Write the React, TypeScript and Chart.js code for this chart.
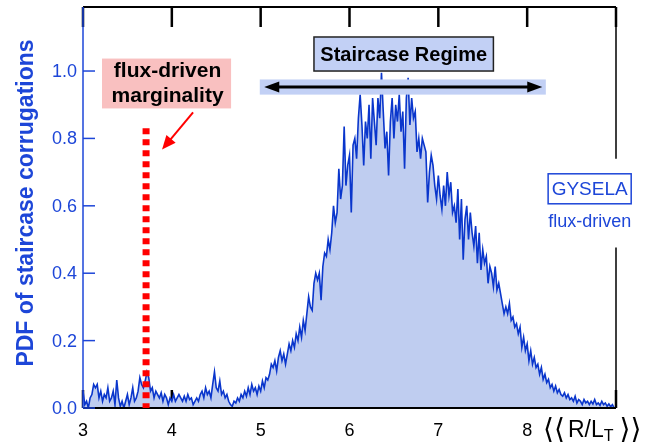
import React, { useEffect, useRef } from "react";
import { Chart, registerables } from "chart.js";

Chart.register(...registerables);

// ---- data ----
const X_START = 3.0;
const X_STEP = 0.02;
const PDF_VALUES = [
  0.05, 0.01, 0.02, 0.0, 0.03,
  0.04, 0.07, 0.06, 0.07, 0.03,
  0.05, 0.02, 0.04, 0.03, 0.06,
  0.02, 0.03, 0.05, 0.01, 0.083,
  0.03, 0.005, 0.02, 0.0, 0.02,
  0.04, 0.01, 0.03, 0.06, 0.02,
  0.03, 0.05, 0.09, 0.07, 0.06,
  0.08, 0.107, 0.09, 0.05, 0.06,
  0.03, 0.05, 0.04, 0.03, 0.045,
  0.02, 0.04, 0.03, 0.01, 0.03,
  0.02, 0.04, 0.02, 0.03, 0.04,
  0.03, 0.02, 0.035, 0.02, 0.04,
  0.025, 0.03, 0.01, 0.02, 0.03,
  0.02, 0.04, 0.05, 0.03, 0.06,
  0.04, 0.05, 0.03, 0.07, 0.107,
  0.06, 0.05, 0.08, 0.04, 0.05,
  0.03, 0.04, 0.02, 0.01, 0.005,
  0.02, 0.015, 0.03, 0.02, 0.04,
  0.03, 0.05, 0.035, 0.06, 0.04,
  0.07, 0.05, 0.06, 0.04, 0.065,
  0.05, 0.08, 0.06, 0.09, 0.083,
  0.1, 0.13, 0.12, 0.14, 0.11,
  0.15, 0.17, 0.14, 0.16, 0.13,
  0.16, 0.19, 0.17, 0.2, 0.18,
  0.22, 0.2, 0.24, 0.21, 0.26,
  0.23, 0.28, 0.33, 0.3, 0.29,
  0.37, 0.4, 0.38, 0.4, 0.32,
  0.42, 0.46, 0.45, 0.5, 0.47,
  0.52, 0.6, 0.55, 0.58, 0.71,
  0.62, 0.66, 0.835, 0.66, 0.72,
  0.75, 0.58, 0.78, 0.8, 0.74,
  0.86, 0.93, 0.84, 0.72, 0.85,
  0.8, 0.9, 0.74, 0.92, 0.85,
  0.78, 0.92, 0.86, 0.995, 0.88,
  0.77, 0.82, 0.69, 0.85, 0.92,
  0.8, 0.9, 0.85, 0.93, 0.82,
  0.88, 0.71, 0.92, 0.98, 0.84,
  0.92, 0.86, 0.88, 0.76, 0.8,
  0.74, 0.8, 0.78, 0.76, 0.61,
  0.7, 0.75, 0.72, 0.66, 0.62,
  0.69, 0.63, 0.59, 0.66, 0.6,
  0.7, 0.63, 0.67, 0.58, 0.6,
  0.55, 0.65, 0.5, 0.62, 0.44,
  0.56, 0.6, 0.5, 0.58, 0.52,
  0.48, 0.54, 0.43, 0.52, 0.41,
  0.47, 0.43, 0.45, 0.37, 0.42,
  0.4, 0.36, 0.42, 0.35, 0.37,
  0.34, 0.31, 0.28, 0.3, 0.28,
  0.31, 0.26, 0.27, 0.24, 0.25,
  0.22, 0.24, 0.18, 0.21, 0.17,
  0.19, 0.14, 0.17, 0.13, 0.15,
  0.12, 0.13, 0.1, 0.12, 0.085,
  0.1, 0.075, 0.085, 0.06, 0.07,
  0.05, 0.065, 0.045, 0.055, 0.04,
  0.035, 0.045, 0.03, 0.04, 0.025,
  0.03, 0.02, 0.035, 0.015, 0.025,
  0.02, 0.01, 0.025, 0.015, 0.02,
  0.01, 0.02, 0.012, 0.025, 0.01,
  0.015, 0.008, 0.02, 0.01, 0.015,
  0.005, 0.012, 0.004, 0.01, 0.0,
  0.0,
];
const Y_TICKS = [0, 0.2, 0.4, 0.6, 0.8, 1.0];
const Y_TICK_LABELS = ["0.0", "0.2", "0.4", "0.6", "0.8", "1.0"];
const X_TICKS = [3, 4, 5, 6, 7, 8];
const X_TICK_LABELS = ["3", "4", "5", "6", "7", "8"];
const FRAME_TICKS = [3, 4, 5, 6, 7, 8, 9];
const MARGINALITY_X = 3.71;

const BLUE_TEXT = "#1d46d8";
const LINE_BLUE = "#0a36cc";
const FILL_BLUE = "#bfcdf0";
const FONT = "'Liberation Sans', Arial, Helvetica, sans-serif";

function arrowHead(ctx: CanvasRenderingContext2D, tx: number, ty: number, ang: number, len: number, half: number) {
  ctx.beginPath();
  ctx.moveTo(tx, ty);
  ctx.lineTo(tx - len * Math.cos(ang) + half * Math.sin(ang), ty - len * Math.sin(ang) - half * Math.cos(ang));
  ctx.lineTo(tx - len * Math.cos(ang) - half * Math.sin(ang), ty - len * Math.sin(ang) + half * Math.cos(ang));
  ctx.closePath();
  ctx.fill();
}

const framePlugin = {
  id: "frame",
  beforeDatasetsDraw(chart: any) {
    const { ctx, chartArea, scales } = chart;
    const xs = scales.x;
    ctx.save();
    ctx.strokeStyle = "#000";
    ctx.lineWidth = 2.5;
    for (const t of FRAME_TICKS) {
      const px = xs.getPixelForValue(t);
      ctx.beginPath();
      ctx.moveTo(px, chartArea.bottom);
      ctx.lineTo(px, chartArea.bottom - 18);
      ctx.stroke();
    }
    ctx.restore();
  },
  afterDatasetsDraw(chart: any) {
    const { ctx, chartArea, scales } = chart;
    const xs = scales.x;
    const ys = scales.y;
    const { left, right, top, bottom } = chartArea;
    ctx.save();

    // top axis + ticks
    ctx.strokeStyle = "#000";
    ctx.lineWidth = 2;
    ctx.beginPath();
    ctx.moveTo(left, top);
    ctx.lineTo(right, top);
    ctx.stroke();
    ctx.lineWidth = 2.5;
    for (const t of FRAME_TICKS) {
      const px = xs.getPixelForValue(t);
      ctx.beginPath();
      ctx.moveTo(px, top);
      ctx.lineTo(px, top + 20);
      ctx.stroke();
    }
    // bottom axis
    ctx.lineWidth = 2;
    ctx.beginPath();
    ctx.moveTo(left, bottom);
    ctx.lineTo(right, bottom);
    ctx.stroke();
    // right axis with gap for legend
    ctx.lineWidth = 1.5;
    ctx.beginPath();
    ctx.moveTo(right, top);
    ctx.lineTo(right, ys.getPixelForValue(0.74));
    ctx.moveTo(right, ys.getPixelForValue(0.476));
    ctx.lineTo(right, bottom);
    ctx.stroke();

    // left axis (blue)
    ctx.strokeStyle = BLUE_TEXT;
    ctx.lineWidth = 1.5;
    ctx.beginPath();
    ctx.moveTo(left, top);
    ctx.lineTo(left, bottom);
    ctx.stroke();
    for (const t of Y_TICKS) {
      const py = ys.getPixelForValue(t);
      ctx.beginPath();
      ctx.moveTo(left, py);
      ctx.lineTo(left + 12, py);
      ctx.stroke();
    }

    // y tick labels
    ctx.fillStyle = BLUE_TEXT;
    ctx.font = `18px ${FONT}`;
    ctx.textAlign = "right";
    ctx.textBaseline = "middle";
    Y_TICKS.forEach((t, i) => {
      ctx.fillText(Y_TICK_LABELS[i], left - 6, ys.getPixelForValue(t) + 1);
    });

    // x tick labels
    ctx.fillStyle = "#000";
    ctx.font = `18px ${FONT}`;
    ctx.textAlign = "center";
    X_TICKS.forEach((t, i) => {
      ctx.fillText(X_TICK_LABELS[i], xs.getPixelForValue(t), bottom + 23);
    });

    // x axis title  <<R/L_T>>
    ctx.textAlign = "left";
    const ty = bottom + 23;
    ctx.font = `28px 'DejaVu Sans', ${FONT}`;
    ctx.fillText("\u27E8\u27E8", 543, ty);
    ctx.font = `23px ${FONT}`;
    ctx.fillText("R/L", 568, ty);
    const tx = 568 + ctx.measureText("R/L").width;
    ctx.font = `16px ${FONT}`;
    ctx.fillText("T", tx, ty + 6);
    const tx2 = tx + ctx.measureText("T").width + 6;
    ctx.font = `28px 'DejaVu Sans', ${FONT}`;
    ctx.fillText("\u27E9\u27E9", tx2, ty);

    // y axis title
    ctx.save();
    ctx.translate(27, 203);
    ctx.rotate(-Math.PI / 2);
    ctx.fillStyle = BLUE_TEXT;
    ctx.font = `bold 23px ${FONT}`;
    ctx.textAlign = "center";
    ctx.textBaseline = "middle";
    ctx.fillText("PDF of staircase corrugations", 0, 0);
    ctx.restore();

    // red dotted marginality line
    const mx = xs.getPixelForValue(MARGINALITY_X);
    ctx.strokeStyle = "#ff0000";
    ctx.lineWidth = 7;
    ctx.setLineDash([6, 5]);
    ctx.beginPath();
    ctx.moveTo(mx, ys.getPixelForValue(0.83));
    ctx.lineTo(mx, bottom);
    ctx.stroke();
    ctx.setLineDash([]);

    // pink box
    const pbx1 = xs.getPixelForValue(3.214), pbx2 = xs.getPixelForValue(4.667);
    const pby1 = ys.getPixelForValue(1.037), pby2 = ys.getPixelForValue(0.889);
    ctx.fillStyle = "#f9c0c0";
    ctx.fillRect(pbx1, pby1, pbx2 - pbx1, pby2 - pby1);
    ctx.fillStyle = "#000";
    ctx.font = `bold 21px ${FONT}`;
    ctx.textAlign = "center";
    ctx.textBaseline = "middle";
    const pcx = (pbx1 + pbx2) / 2 + 1;
    ctx.fillText("flux-driven", pcx, pby1 + 13);
    ctx.fillText("marginality", pcx, pby1 + 38);

    // red arrow
    const ax1 = xs.getPixelForValue(4.239), ay1 = ys.getPixelForValue(0.877);
    const ax2 = xs.getPixelForValue(3.89), ay2 = ys.getPixelForValue(0.767);
    const ang = Math.atan2(ay2 - ay1, ax2 - ax1);
    ctx.strokeStyle = "#ff0000";
    ctx.fillStyle = "#ff0000";
    ctx.lineWidth = 2;
    ctx.beginPath();
    ctx.moveTo(ax1, ay1);
    ctx.lineTo(ax2 - 10 * Math.cos(ang), ay2 - 10 * Math.sin(ang));
    ctx.stroke();
    arrowHead(ctx, ax2, ay2, ang, 14, 6);

    // staircase regime band + double arrow
    const bx1 = xs.getPixelForValue(4.99), bx2 = xs.getPixelForValue(8.21);
    const by1 = ys.getPixelForValue(0.975), by2 = ys.getPixelForValue(0.93);
    ctx.fillStyle = "#c2d0f5";
    ctx.fillRect(bx1, by1, bx2 - bx1, by2 - by1);
    const ayc = (by1 + by2) / 2;
    const al = xs.getPixelForValue(5.04), ar = xs.getPixelForValue(8.17);
    ctx.strokeStyle = "#000";
    ctx.fillStyle = "#000";
    ctx.lineWidth = 3;
    ctx.beginPath();
    ctx.moveTo(al + 10, ayc);
    ctx.lineTo(ar - 10, ayc);
    ctx.stroke();
    arrowHead(ctx, al, ayc, Math.PI, 15, 5.5);
    arrowHead(ctx, ar, ayc, 0, 15, 5.5);

    // staircase regime box
    const sx1 = xs.getPixelForValue(5.6), sx2 = xs.getPixelForValue(7.62);
    const sy1 = ys.getPixelForValue(1.101), sy2 = ys.getPixelForValue(1.0);
    ctx.fillStyle = "#c2d0f5";
    ctx.fillRect(sx1, sy1, sx2 - sx1, sy2 - sy1);
    ctx.strokeStyle = "#222";
    ctx.lineWidth = 1.5;
    ctx.strokeRect(sx1, sy1, sx2 - sx1, sy2 - sy1);
    ctx.fillStyle = "#000";
    ctx.font = `bold 20px ${FONT}`;
    ctx.textAlign = "center";
    ctx.fillText("Staircase Regime", (sx1 + sx2) / 2, (sy1 + sy2) / 2 + 1);

    // GYSELA legend
    const gx1 = xs.getPixelForValue(8.236), gx2 = xs.getPixelForValue(9.171);
    const gy1 = ys.getPixelForValue(0.695), gy2 = ys.getPixelForValue(0.606);
    ctx.fillStyle = "#fff";
    ctx.fillRect(gx1, gy1, gx2 - gx1, gy2 - gy1);
    ctx.strokeStyle = BLUE_TEXT;
    ctx.lineWidth = 1.5;
    ctx.strokeRect(gx1, gy1, gx2 - gx1, gy2 - gy1);
    ctx.fillStyle = BLUE_TEXT;
    ctx.font = `19px ${FONT}`;
    ctx.fillText("GYSELA", (gx1 + gx2) / 2, (gy1 + gy2) / 2 + 1);
    ctx.font = `18px ${FONT}`;
    ctx.fillText("flux-driven", (gx1 + gx2) / 2, gy2 + 18);

    ctx.restore();
  },
};

export default function App() {
  const canvasRef = useRef<HTMLCanvasElement | null>(null);

  useEffect(() => {
    if (!canvasRef.current) return;
    const points = PDF_VALUES.map((v, i) => ({ x: X_START + i * X_STEP, y: v }));
    const chart = new Chart(canvasRef.current, {
      type: "line",
      data: {
        datasets: [
          {
            data: points,
            borderColor: LINE_BLUE,
            backgroundColor: FILL_BLUE,
            borderWidth: 1.6,
            fill: "origin",
            pointRadius: 0,
            tension: 0,
          },
        ],
      },
      options: {
        responsive: false,
        animation: false,
        layout: { padding: { left: 83, right: 34, top: 7, bottom: 37 } },
        plugins: { legend: { display: false }, tooltip: { enabled: false } },
        scales: {
          x: { type: "linear", min: 3, max: 9, display: false },
          y: { type: "linear", min: 0, max: 1.19, display: false },
        },
      },
      plugins: [framePlugin],
    });
    return () => chart.destroy();
  }, []);

  return (
    <div style={{ position: "fixed", left: 0, top: 0, width: 650, height: 445, background: "#fff" }}>
      <canvas ref={canvasRef} width={650} height={445} style={{ width: 650, height: 445 }} />
    </div>
  );
}
